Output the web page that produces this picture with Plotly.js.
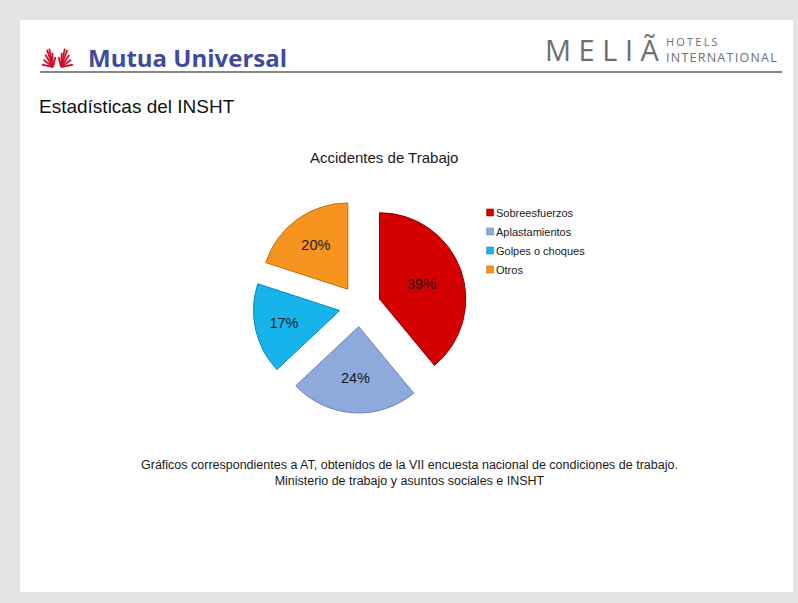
<!DOCTYPE html>
<html>
<head>
<meta charset="utf-8">
<script src="https://cdn.plot.ly/plotly-3.0.1.min.js"></script>
<style>html,body{margin:0;padding:0;background:#e4e4e4;}#chart{width:798px;height:603px;}</style>
</head>
<body>
<div id="chart"></div>
<script>
// Data
var categories = ['Sobreesfuerzos', 'Aplastamientos', 'Golpes o choques', 'Otros'];
var percentages = [39, 24, 17, 20];
var sliceColors = ['#d40000', '#8eaadc', '#16b4ea', '#f7941f'];
var edgeColors = ['#8a0000', '#6a86b8', '#0a88b4', '#c06a08'];

var W = 798, H = 603;
function X(px) { return px / W; }
function Y(py) { return 1 - py / H; }

var cx = 360, cy = 306, box = 214;

var trace = {
  type: 'pie',
  labels: categories,
  values: percentages,
  sort: false,
  direction: 'clockwise',
  rotation: 0,
  pull: [0.24, 0.24, 0.24, 0.24],
  marker: { colors: sliceColors, line: { color: edgeColors, width: 1 } },
  texttemplate: '%{value}%',
  textposition: 'inside',
  insidetextorientation: 'horizontal',
  textfont: { family: 'Arial, Liberation Sans, sans-serif', size: 14.5, color: '#1a1a1a' },
  hoverinfo: 'label+percent',
  domain: { x: [X(cx - box / 2), X(cx + box / 2)], y: [Y(cy + box / 2), Y(cy - box / 2)] }
};

var shapes = [
  // white card
  { type: 'rect', xref: 'paper', yref: 'paper', x0: X(20), x1: X(793), y0: Y(592), y1: Y(20),
    fillcolor: '#ffffff', line: { width: 0 }, layer: 'below' },
  // header rule
  { type: 'line', xref: 'paper', yref: 'paper', x0: X(40), x1: X(782), y0: Y(72), y1: Y(72),
    line: { color: '#858585', width: 2 } }
];

// Mutua logo icon: rays from two bottom points to an "M" outline
function rays(ox, oy, pts, n) {
  // pts: polyline [x,y] pairs; n rays spread along it
  var segs = [], total = 0;
  for (var i = 0; i < pts.length - 1; i++) {
    var L = Math.hypot(pts[i + 1][0] - pts[i][0], pts[i + 1][1] - pts[i][1]);
    segs.push(L); total += L;
  }
  for (var k = 0; k < n; k++) {
    var d = total * (k + 0.5) / n, j = 0;
    while (j < segs.length - 1 && d > segs[j]) { d -= segs[j]; j++; }
    var t = d / segs[j];
    var tx = pts[j][0] + t * (pts[j + 1][0] - pts[j][0]);
    var ty = pts[j][1] + t * (pts[j + 1][1] - pts[j][1]);
    shapes.push({ type: 'line', xref: 'paper', yref: 'paper',
      x0: X(ox), y0: Y(oy), x1: X(tx), y1: Y(ty), line: { color: '#d0102a', width: 1.8 } });
  }
}
rays(53, 67, [[41, 67], [48, 47], [57, 59]], 7);
rays(61, 67, [[57, 59], [66, 47], [74, 67]], 7);

var hs = '\u200A';
var annotations = [
  { text: '<b>Mutua Universal</b>', x: X(86), y: Y(57), xref: 'paper', yref: 'paper', xanchor: 'left', yanchor: 'middle',
    showarrow: false, font: { family: 'Open Sans, DejaVu Sans, sans-serif', size: 24, color: '#3f4a9c' } },
  { text: 'M E L I Ã', x: X(543), y: Y(50), xref: 'paper', yref: 'paper', xanchor: 'left', yanchor: 'middle',
    showarrow: false, font: { family: 'Open Sans, sans-serif', size: 29, color: '#6f6f6f' } },
  { text: '<span style="font-size:11px">' + 'HOTELS'.split('').join(hs + hs) + '</span><br>' + 'INTERNATIONAL'.split('').join(hs),
    x: X(665), y: Y(50), xref: 'paper', yref: 'paper', xanchor: 'left', yanchor: 'middle', align: 'left',
    showarrow: false, borderpad: 0, font: { family: 'Open Sans, sans-serif', size: 12.5, color: '#6f6f6f' } },
  { text: 'Estadísticas del INSHT', x: X(37), y: Y(107), xref: 'paper', yref: 'paper', xanchor: 'left', yanchor: 'middle',
    showarrow: false, font: { family: 'Arial, Liberation Sans, sans-serif', size: 19, color: '#111111' } },
  { text: 'Accidentes de Trabajo', x: X(384), y: Y(157), xref: 'paper', yref: 'paper', xanchor: 'center', yanchor: 'middle',
    showarrow: false, font: { family: 'Arial, Liberation Sans, sans-serif', size: 15, color: '#1a1a1a' } },
  { text: 'Gráficos correspondientes a AT, obtenidos de la VII encuesta nacional de condiciones de trabajo.<br>Ministerio de trabajo y asuntos sociales e INSHT',
    x: X(409), y: Y(473), xref: 'paper', yref: 'paper', xanchor: 'center', yanchor: 'middle',
    showarrow: false, font: { family: 'Arial, Liberation Sans, sans-serif', size: 12.5, color: '#1a1a1a' } }
];

var layout = {
  width: W, height: H,
  margin: { l: 0, r: 0, t: 0, b: 0 },
  paper_bgcolor: '#e4e4e4',
  plot_bgcolor: '#e4e4e4',
  showlegend: true,
  legend: { x: X(456), y: Y(198), xanchor: 'left', yanchor: 'top', bgcolor: 'rgba(0,0,0,0)',
    font: { family: 'Arial, Liberation Sans, sans-serif', size: 11, color: '#1a1a1a' }, itemwidth: 30 },
  shapes: shapes,
  annotations: annotations
};

Plotly.newPlot('chart', [trace], layout, { displayModeBar: false, staticPlot: true }).then(function () {
  // shrink the legend swatches to the small squares of the original
  document.querySelectorAll('#chart .legend .legendpoints').forEach(function (g) {
    g.setAttribute('transform', 'translate(22.5,0) scale(0.58)');
  });
});
</script>
</body>
</html>
